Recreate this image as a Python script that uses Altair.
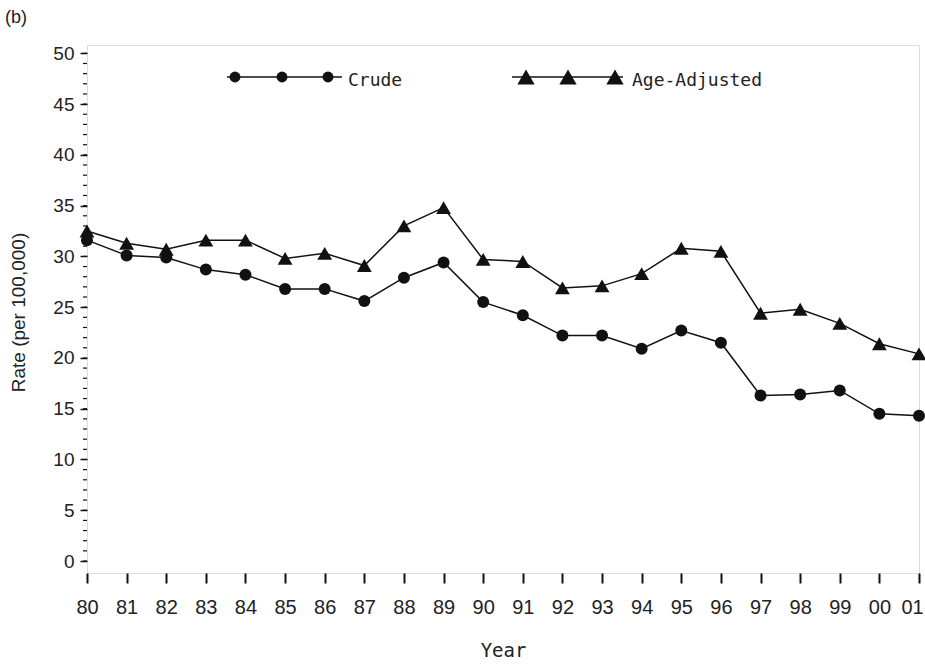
import altair as alt
import pandas as pd

# Year labels (1980-2001) and the two rate series (per 100,000)
year_labels = ["80", "81", "82", "83", "84", "85", "86", "87", "88", "89", "90",
               "91", "92", "93", "94", "95", "96", "97", "98", "99", "00", "01"]
crude = [31.6, 30.1, 29.9, 28.7, 28.2, 26.8, 26.8, 25.6, 27.9, 29.4, 25.5,
         24.2, 22.2, 22.2, 20.9, 22.7, 21.5, 16.3, 16.4, 16.8, 14.5, 14.3]
age_adjusted = [32.5, 31.3, 30.7, 31.6, 31.6, 29.8, 30.3, 29.1, 33.0, 34.8, 29.7,
                29.5, 26.9, 27.1, 28.3, 30.8, 30.5, 24.4, 24.8, 23.4, 21.4, 20.4]
major_ticks = [0, 5, 10, 15, 20, 25, 30, 35, 40, 45, 50]
minor_ticks = list(range(0, 51))

W, H = 832, 528
INK = "#111111"

y_scale = alt.Scale(domain=[-1.18, 50.82], nice=False, zero=False)
x_scale = alt.Scale(padding=0)

x_enc = alt.X(
    "year:O", sort=year_labels, scale=x_scale,
    axis=alt.Axis(
        title="Year", labelAngle=0, tickSize=10, tickWidth=2, tickColor=INK,
        labelFont="Liberation Sans", labelFontSize=20, labelColor="#222222",
        labelPadding=14, domain=False, grid=False,
        # keep the last year label inside the page edge
        labelOffset=alt.condition(f"datum.value == '{year_labels[-1]}'",
                                  alt.value(-7), alt.value(0)),
        titleFont="DejaVu Sans Mono", titleFontSize=19, titleFontWeight="normal",
        titleColor="#222222", titleX=W / 2, titleY=83, titleBaseline="alphabetic",
        titleAlign="center",
    ),
)
y_enc = alt.Y(
    "rate:Q", scale=y_scale,
    axis=alt.Axis(
        title="Rate (per 100,000)", values=major_ticks, tickSize=7, tickWidth=1.5,
        tickColor=INK, labelFont="Liberation Sans", labelFontSize=19,
        labelColor="#222222", labelPadding=6, domain=False, grid=False,
        titleFont="Liberation Sans", titleFontSize=19, titleFontWeight="normal",
        titleColor="#222222", titleAngle=-90, titleX=-63, titleY=267,
        titleBaseline="alphabetic", titleAlign="center",
    ),
)

df = pd.concat([
    pd.DataFrame({"year": year_labels, "rate": crude, "series": "Crude"}),
    pd.DataFrame({"year": year_labels, "rate": age_adjusted, "series": "Age-Adjusted"}),
])

layers = []
markers = {"Crude": ("circle", 144), "Age-Adjusted": ("triangle-up", 220)}
for name, (shape, size) in markers.items():
    sub = alt.Chart(df).transform_filter(alt.datum.series == name)
    layers.append(sub.mark_line(color=INK, strokeWidth=1.5).encode(x=x_enc, y=y_enc))
    layers.append(sub.mark_point(shape=shape, size=size, filled=True, color=INK,
                                 opacity=1).encode(x=x_enc, y=y_enc))

# minor ticks on the rate axis
layers.append(
    alt.Chart(pd.DataFrame({"rate": minor_ticks}))
    .mark_rule(color=INK, strokeWidth=1.2)
    .encode(y=alt.Y("rate:Q", scale=y_scale), x=alt.value(-4), x2=alt.value(0))
)

one = alt.Data(values=[{}])

def legend_entry(x0, x1, marker_xs, shape, size, label, text_x):
    out = [alt.Chart(one).mark_rule(color=INK, strokeWidth=1.5)
           .encode(x=alt.value(x0), x2=alt.value(x1), y=alt.value(32))]
    for mx in marker_xs:
        out.append(alt.Chart(one).mark_point(shape=shape, size=size, filled=True,
                                             color=INK, opacity=1)
                   .encode(x=alt.value(mx), y=alt.value(32)))
    out.append(alt.Chart(one).mark_text(font="DejaVu Sans Mono", fontSize=18,
                                        align="left", baseline="alphabetic",
                                        color="#222222")
               .encode(x=alt.value(text_x), y=alt.value(41), text=alt.value(label)))
    return out

layers += legend_entry(140, 255, [148, 195, 241], "circle", 120, "Crude", 261)
layers += legend_entry(425, 536, [439, 481, 528], "triangle-up", 300, "Age-Adjusted", 545)

# panel tag
layers.append(
    alt.Chart(one).mark_text(font="Liberation Sans", fontSize=18, align="left",
                             baseline="alphabetic", color="#222222")
    .encode(x=alt.value(-82), y=alt.value(-22), text=alt.value("(b)"))
)

chart = (
    alt.layer(*layers)
    .properties(width=W, height=H,
                autosize=alt.AutoSizeParams(type="none"),
                padding={"left": 87, "top": 45, "right": 6, "bottom": 92})
    .configure_view(stroke=INK, strokeWidth=2)
    .configure(background="white")
)

chart.save("out.html", embed_options={"renderer": "svg", "actions": False})
